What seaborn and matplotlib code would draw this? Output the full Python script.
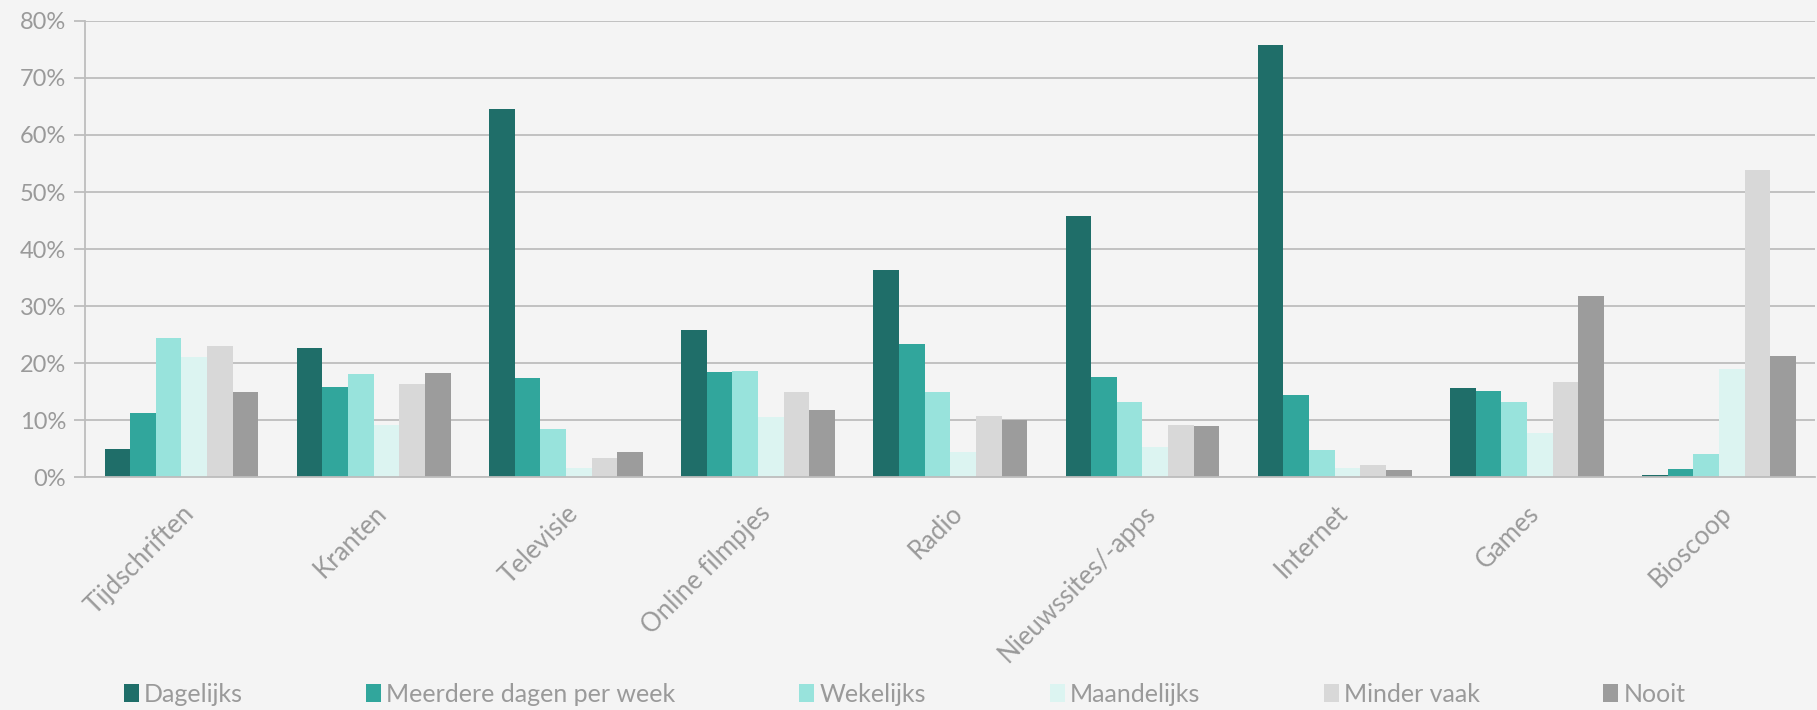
import matplotlib
matplotlib.use("Agg")
import matplotlib.pyplot as plt
import seaborn as sns
import pandas as pd
from matplotlib.ticker import FuncFormatter, MultipleLocator

# Media categories on the x axis
categories = ["Tijdschriften", "Kranten", "Televisie", "Online filmpjes", "Radio",
              "Nieuwssites/-apps", "Internet", "Games", "Bioscoop"]

# Usage frequency per category (percent of respondents)
dagelijks = [4.9, 22.6, 64.5, 25.8, 36.3, 45.8, 75.8, 15.7, 0.4]
meerdere_dagen = [11.3, 15.8, 17.4, 18.4, 23.3, 17.5, 14.4, 15.1, 1.5]
wekelijks = [24.4, 18.0, 8.4, 18.6, 15.0, 13.1, 4.8, 13.1, 4.0]
maandelijks = [21.0, 9.1, 1.6, 10.5, 4.4, 5.3, 1.6, 7.7, 18.9]
minder_vaak = [23.0, 16.3, 3.4, 14.9, 10.8, 9.1, 2.2, 16.7, 53.9]
nooit = [15.0, 18.2, 4.4, 11.8, 10.1, 8.9, 1.2, 31.7, 21.3]

series_names = ["Dagelijks", "Meerdere dagen per week", "Wekelijks",
                "Maandelijks", "Minder vaak", "Nooit"]
series_values = [dagelijks, meerdere_dagen, wekelijks, maandelijks, minder_vaak, nooit]
colors = ["#1F6E69", "#31A69C", "#98E3DC", "#DCF4F1", "#D8D8D8", "#9C9C9C"]

rows = []
for name, vals in zip(series_names, series_values):
    for cat, v in zip(categories, vals):
        rows.append({"Categorie": cat, "Frequentie": name, "Percentage": v})
df = pd.DataFrame(rows)

sns.set_theme(style="white")
plt.rcParams["font.family"] = ["Lato", "DejaVu Sans"]

bg = "#F4F4F4"
text_color = "#9A9A9A"
grid_color = "#BDBDBD"

fig = plt.figure(figsize=(18.17, 7.10), dpi=100, facecolor=bg)
ax = fig.add_axes([0.047, 0.328, 0.952, 0.6425])
ax.set_facecolor(bg)

sns.barplot(data=df, x="Categorie", y="Percentage", hue="Frequentie",
            order=categories, hue_order=series_names, palette=colors,
            width=0.8, linewidth=0, saturation=1, ax=ax, legend=True)

ax.set_ylim(0, 80)
ax.set_xlim(-0.5, len(categories) - 0.5)
ax.yaxis.set_major_locator(MultipleLocator(10))
ax.yaxis.set_major_formatter(FuncFormatter(lambda v, _: f"{v:.0f}%"))
ax.grid(axis="y", color=grid_color, linewidth=1.3, zorder=0)
ax.set_axisbelow(True)

for side in ["top", "right"]:
    ax.spines[side].set_visible(False)
for side in ["left", "bottom"]:
    ax.spines[side].set_color(grid_color)
    ax.spines[side].set_linewidth(1.3)

# Category ticks sit on the group boundaries; labels stay centred under groups
ax.set_xticks([i for i in range(len(categories))])
ax.set_xticklabels(categories, rotation=45, ha="right", rotation_mode="anchor",
                   fontsize=18.5, color=text_color)
ax.tick_params(axis="x", length=0, pad=17)
ax.set_xticks([i - 0.5 for i in range(len(categories) + 1)], minor=True)
ax.tick_params(axis="x", which="minor", length=8, width=1.3, color=grid_color,
               direction="out")
ax.tick_params(axis="y", length=8, width=1.3, color=grid_color, labelsize=17,
               labelcolor=text_color, pad=6, left=True)
ax.set_xlabel("")
ax.set_ylabel("")

handles, labels = ax.get_legend_handles_labels()
ax.get_legend().remove()
fig.legend(handles, labels, loc="center left", bbox_to_anchor=(0.068, 0.022),
           ncol=6, frameon=False, fontsize=18, labelcolor=text_color,
           handlelength=0.6, handleheight=0.75, handletextpad=0.2,
           columnspacing=4.95, borderpad=0, borderaxespad=0)

fig.savefig("out.png", dpi=100, facecolor=bg)
